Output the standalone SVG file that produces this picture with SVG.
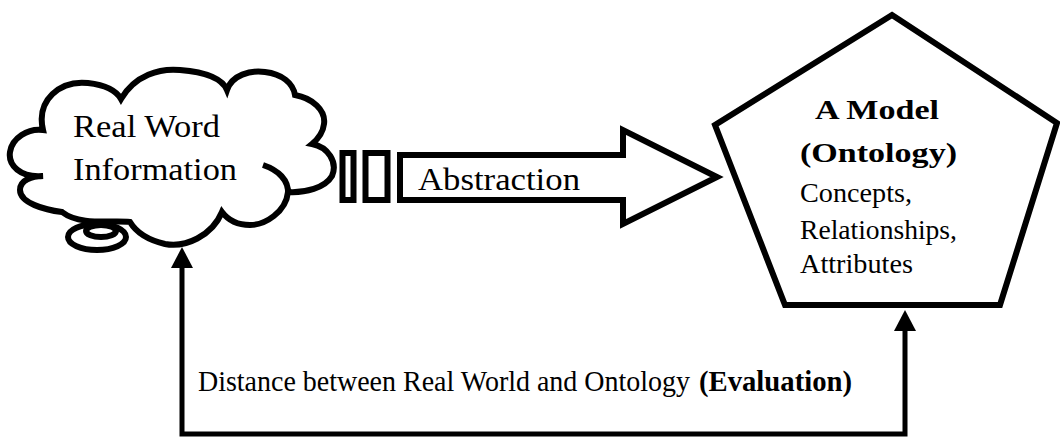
<svg xmlns="http://www.w3.org/2000/svg" width="1060" height="440" viewBox="0 0 1060 440">
  <style>
    .shape { fill: #fff; stroke: #000; stroke-width: 6; stroke-linejoin: miter; stroke-linecap: butt; }
    .line { fill: none; stroke: #000; stroke-width: 5; }
    .cloudline { fill: none; stroke: #000; stroke-width: 6; stroke-linecap: butt; }
    .txt { font-family: 'Liberation Serif', serif; fill: #000; }
    .big { font-size: 31px; }
    .mid { font-size: 27px; }
    .low { font-size: 29px; }
    .bold { font-weight: bold; }
  </style>
  <defs>
    <path id="tri" d="M0,-1 L11,20 L-11,20 Z" fill="#000"/>
  </defs>
  <rect width="1060" height="440" fill="#fff"/>

  <g id="cloud">
    <path class="shape" d="M 43,176 C 20,178 8,165 10,152 C 12,138 28,128 43,130
      C 36,100 60,80 88,83 C 105,85 116,90 121,99
      C 135,75 160,68 180,70 C 205,72 222,78 227,90
      C 232,75 250,70 265,72 C 282,74 293,83 295,95
      C 312,98 326,110 324,124 C 323,133 318,139 312,144
      C 328,147 338,162 332,176 C 325,188 305,193 288,192
      C 286,212 265,225 250,225 C 238,225 228,220 222,212
      C 212,236 185,248 165,244 C 148,240 136,232 130,222
      C 112,220 80,226 62,212
      C 45,210 20,203 20,190 C 20,180 32,176 43,176 Z"/>
    <path class="cloudline" d="M 263,165 C 278,170 289,180 288,194"/>
    <ellipse cx="97" cy="237" rx="29" ry="13" fill="#fff" stroke="#000" stroke-width="6"/>
    <ellipse cx="101" cy="231" rx="15" ry="6" fill="none" stroke="#000" stroke-width="6"/>
    <text class="txt big" x="73" y="137" textLength="147" lengthAdjust="spacingAndGlyphs">Real Word</text>
    <text class="txt big" x="73" y="180" textLength="164" lengthAdjust="spacingAndGlyphs">Information</text>
  </g>

  <g id="model">
    <polygon class="shape" points="892,15 1057,123 1000,305 785,305 715,125"/>
    <text class="txt mid bold" x="815" y="119" textLength="124" lengthAdjust="spacingAndGlyphs">A Model</text>
    <text class="txt mid bold" x="800" y="162" textLength="157" lengthAdjust="spacingAndGlyphs">(Ontology)</text>
    <text class="txt mid" x="800" y="202" textLength="112" lengthAdjust="spacingAndGlyphs">Concepts,</text>
    <text class="txt mid" x="800" y="239" textLength="157" lengthAdjust="spacingAndGlyphs">Relationships,</text>
    <text class="txt mid" x="800" y="273" textLength="113" lengthAdjust="spacingAndGlyphs">Attributes</text>
  </g>

  <g id="connectors">
    <g id="abstraction">
      <rect class="shape" x="342.5" y="153" width="11" height="47" stroke-width="5.5"/>
      <rect class="shape" x="365.5" y="153" width="22" height="47" stroke-width="5.5"/>
      <polygon class="shape" points="400,155 623,155 623,130 717,177 623,224 623,200 400,200"/>
      <text class="txt big" x="418" y="190" textLength="162" lengthAdjust="spacingAndGlyphs">Abstraction</text>
    </g>
    <g id="evaluation">
      <path class="line" d="M 182,266 L 182,434 L 905,434 L 905,328" stroke-linejoin="miter"/>
      <use href="#tri" x="182" y="248"/>
      <use href="#tri" x="905" y="311"/>
      <text class="txt low" x="198" y="391"><tspan textLength="492" lengthAdjust="spacingAndGlyphs">Distance between Real World and Ontology</tspan><tspan x="699" font-weight="bold" textLength="153" lengthAdjust="spacingAndGlyphs">(Evaluation)</tspan></text>
    </g>
  </g>
</svg>
